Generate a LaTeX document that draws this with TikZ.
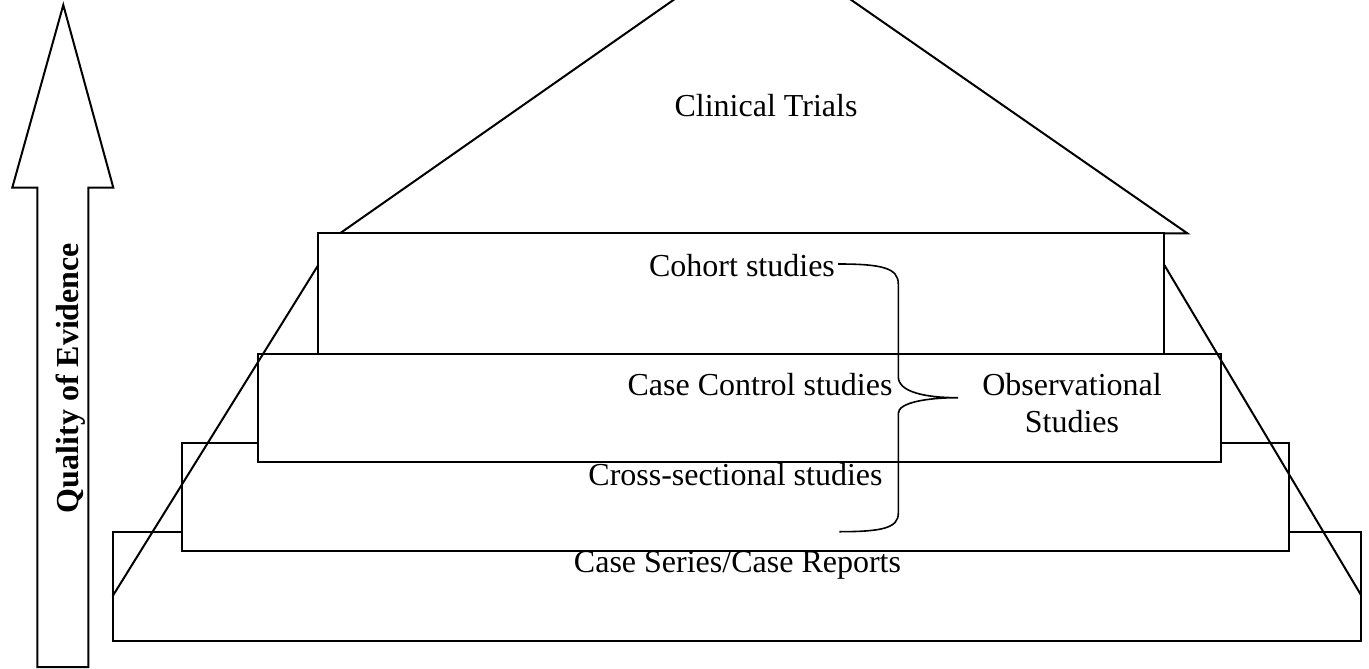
\documentclass[tikz,border=0pt]{standalone}
\usepackage{fontspec}
\setmainfont{Liberation Serif}
\begin{document}
\begin{tikzpicture}[x=1pt,y=-1pt,line width=2pt]
    \tikzstyle{level}=[draw=black, fill=white]
    \tikzstyle{lbl}=[anchor=base, inner sep=0pt, font=\fontsize{32}{37}\selectfont]
    \useasboundingbox (0,0) rectangle (1369,669);
    \clip (0,0) rectangle (1369,669);
    \draw (37.3,667) -- (37.3,187.6) -- (12.3,187.6) -- (63.3,5) -- (113.3,187.6) -- (88.3,187.6) -- (88.3,667) -- cycle;
    \node[lbl, rotate=90, font=\fontsize{32}{37}\selectfont\bfseries] (qe) at (78,378) {Quality of Evidence};
    \draw (340,233.3) -- (762,-62) -- (1187.3,233.3) -- cycle;
    \filldraw[level] (112.7,531.7) rectangle (1361,640.7);
    \filldraw[level] (181.7,442.7) rectangle (1289.3,551.3);
    \filldraw[level] (258.3,353.7) rectangle (1220.7,462.3);
    \filldraw[level] (318.3,233.3) rectangle (1164.3,353.7);
    \draw (318.3,265) -- (112.7,596);
    \draw (1164.3,265) -- (1361,595);
    \node[lbl] (ct) at (766,117) {Clinical Trials};
    \node[lbl] (coh) at (742,276) {Cohort studies};
    \node[lbl] (cc) at (760,395) {Case Control studies};
    \node[lbl] (cs) at (735.5,485) {Cross-sectional studies};
    \node[lbl] (csr) at (737.5,572.3) {Case Series/Case Reports};
    \node[lbl, anchor=center, align=center] (obs) at (1072,403) {Observational\\Studies};
    \coordinate (bt) at (838,264);
    \coordinate (btip) at (958,397.7);
    \coordinate (bb) at (839.3,531.7);
    \draw[line width=1.6pt] (bt) .. controls (882,264) and (898.3,268) .. (898.3,284)
        -- (898.3,376.7) .. controls (898.3,392) and (925,397.7) .. (btip)
        .. controls (925,397.7) and (898.3,403) .. (898.3,413.3)
        -- (898.3,513.3) .. controls (898.3,528) and (882,531.7) .. (bb);
    %\draw (coh) -- (obs);
\end{tikzpicture}
\end{document}
